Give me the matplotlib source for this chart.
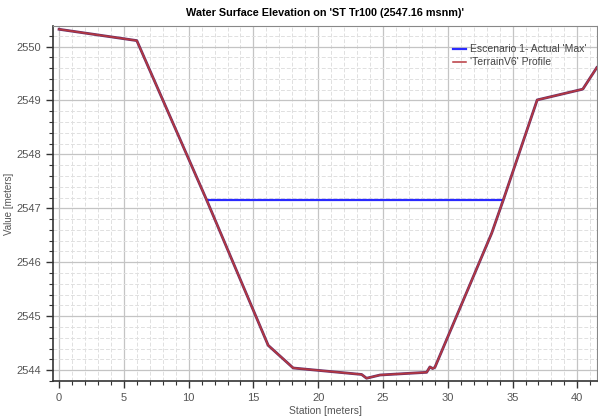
import matplotlib.pyplot as plt
from matplotlib.ticker import MultipleLocator

plt.rcParams['font.family'] = ['Liberation Sans', 'DejaVu Sans']

# terrain profile (station, elevation)
terrain_station = [0.0, 6.0, 11.38, 16.14, 18.07, 23.35, 23.73, 24.77,
                   28.37, 28.62, 28.83, 29.0, 33.39, 34.29, 36.9, 40.42, 41.5]
terrain_elev = [2550.32, 2550.11, 2547.16, 2544.46, 2544.04, 2543.92, 2543.85, 2543.91,
                2543.96, 2544.06, 2544.03, 2544.05, 2546.54, 2547.16, 2549.01, 2549.21, 2549.61]

# water surface
water_station = [11.38, 34.29]
water_elev = [2547.16, 2547.16]

title = "Water Surface Elevation on 'ST Tr100 (2547.16 msnm)'"
legend_labels = ["Escenario 1- Actual 'Max'", "'TerrainV6' Profile"]

fig = plt.figure(figsize=(5.98, 4.2), dpi=100)
ax = fig.add_axes([0.089, 0.093, 0.909, 0.845])

ax.plot(water_station, water_elev, color='#2a2aff', lw=1.6, label=legend_labels[0], zorder=3)
ax.plot(terrain_station, terrain_elev, color='#6a2f6a', lw=2.0, zorder=4)
ax.plot(terrain_station, terrain_elev, color='#b8383e', lw=1.1, label=legend_labels[1], zorder=5)

ax.set_xlim(-0.45, 41.5)
ax.set_ylim(2543.8, 2550.38)
ax.xaxis.set_major_locator(MultipleLocator(5))
ax.xaxis.set_minor_locator(MultipleLocator(1))
ax.yaxis.set_major_locator(MultipleLocator(1))
ax.yaxis.set_minor_locator(MultipleLocator(0.2))

ax.grid(which='major', color='#c4c4c4', lw=0.9)
ax.grid(which='minor', color='#e0e0e0', lw=0.7, ls=(0, (4, 2)))
ax.set_axisbelow(True)

ax.tick_params(which='major', direction='out', length=5, width=1, colors='#333333',
               labelsize=8, labelcolor='#555555')
ax.tick_params(which='minor', direction='out', length=3, width=0.8, colors='#333333')
for s in ['left', 'bottom']:
    ax.spines[s].set_color('#333333')
    ax.spines[s].set_linewidth(1.2)
for s in ['top', 'right']:
    ax.spines[s].set_color('#888888')
    ax.spines[s].set_linewidth(0.8)

ax.set_title(title, fontsize=7.8, fontweight='bold', pad=7)
ax.set_xlabel("Station [meters]", fontsize=7.5, color='#555555', labelpad=2)
ax.set_ylabel("Value [meters]", fontsize=7, color='#555555', labelpad=2)

handles, labels = ax.get_legend_handles_labels()
ax.legend(handles, labels, loc='upper right', bbox_to_anchor=(0.998, 0.975), frameon=False,
          fontsize=7.5, handlelength=1.2, handletextpad=0.4, labelspacing=0.3,
          labelcolor='#444444')

fig.savefig('out.png', dpi=100)
